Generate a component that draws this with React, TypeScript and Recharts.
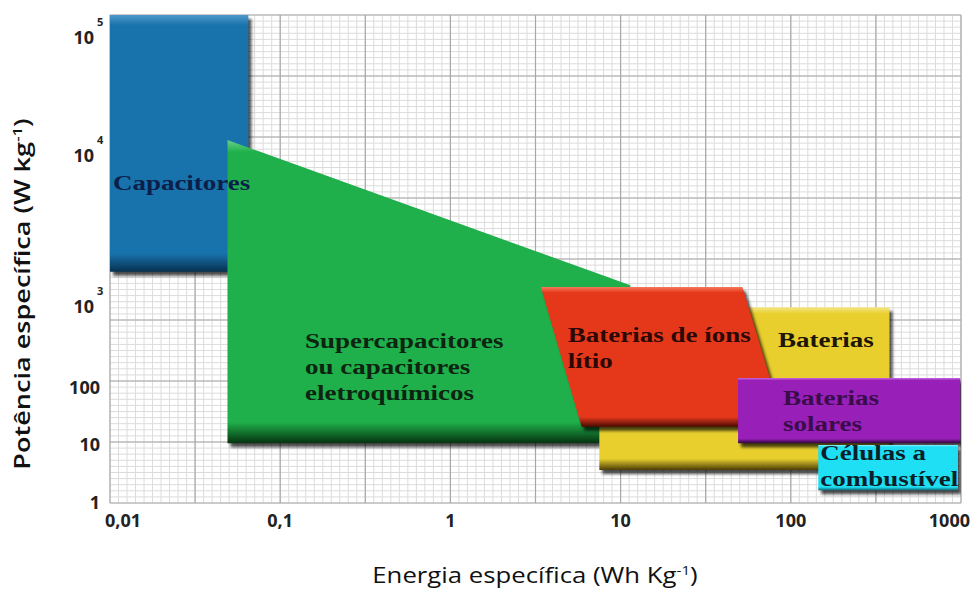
import React from "react";
import { Area, CartesianGrid, ComposedChart, ReferenceDot, XAxis, YAxis } from "recharts";

// energia específica (Wh/kg), eixo log
const X_TICKS = [0.01, 0.1, 1, 10, 100, 1000];
const X_TICK_LABELS = ["0,01", "0,1", "1", "10", "100", "1000"];

// o eixo de potência da figura não é regular: posições lidas numa grade de 0 a 8
const Y_TICKS = [0, 0.95, 1.89, 3.21, 5.69, 7.62];
const Y_TICK_BASE = ["1", "10", "100", "10", "10", "10"];
const Y_TICK_EXP = ["", "", "", "3", "4", "5"];

// regiões: x em Wh/kg, r = [base, topo] na grade do eixo y
const CAPACITORES = [
  { x: 0.01, r: [3.79, 8] },
  { x: 0.065, r: [3.79, 8] },
];
const SUPERCAPACITORES = [
  { x: 0.049, r: [0.98, 5.95] },
  { x: 11.4, r: [0.98, 3.57] },
];
const BATERIAS = [
  { x: 7.5, r: [0.54, 3.21] },
  { x: 380, r: [0.54, 3.21] },
];
const LITIO = [
  { x: 3.4, r: [3.54, 3.54] },
  { x: 5.9, r: [1.25, 3.54] },
  { x: 52, r: [1.25, 3.54] },
  { x: 92, r: [1.25, 1.25] },
];
const SOLARES = [
  { x: 49, r: [0.98, 2.05] },
  { x: 990, r: [0.98, 2.05] },
];
const CELULAS = [
  { x: 145, r: [0.21, 0.95] },
  { x: 960, r: [0.21, 0.95] },
];

const NOTES = [
  { x: 0.0104, y: 5.13, lines: ["Capacitores"], color: "#0b1f4a" },
  { x: 0.14, y: 2.54, lines: ["Supercapacitores", "ou capacitores", "eletroquímicos"], color: "#0c2410" },
  { x: 4.9, y: 2.64, lines: ["Baterias de íons", "lítio"], color: "#2b0804" },
  { x: 84, y: 2.56, lines: ["Baterias"], color: "#1c1604" },
  { x: 90, y: 1.61, lines: ["Baterias", "solares"], color: "#3a0d4a" },
  { x: 149, y: 0.7, lines: ["Células a", "combustível"], color: "#0a1f2a" },
];

const SHAPES = [
  { id: "cap", data: CAPACITORES, top: "#4d9acb", base: "#1872ab", dark: "#06304f" },
  { id: "sup", data: SUPERCAPACITORES, top: "#6ad08a", base: "#1fb04b", dark: "#06320f" },
  { id: "bat", data: BATERIAS, top: "#f5e788", base: "#e8cf2e", dark: "#4a3c05" },
  { id: "lit", data: LITIO, top: "#f57a5a", base: "#e5381b", dark: "#4a0a02" },
  { id: "sol", data: SOLARES, top: "#c86ae0", base: "#981fb8", dark: "#2c0637" },
  { id: "cel", data: CELULAS, top: "#8ff2fb", base: "#1fdff5", dark: "#0b6b78" },
];

// linhas do papel milimetrado
const MINOR_X = Array.from({ length: 101 }, (_, i) => Math.pow(10, -2 + i * 0.05));
const MAJOR_X = Array.from({ length: 11 }, (_, i) => Math.pow(10, -2 + i * 0.5));
const MINOR_Y = Array.from({ length: 81 }, (_, i) => i * 0.1);
const MAJOR_Y = Array.from({ length: 9 }, (_, i) => i);

const SANS = "'Open Sans', 'Noto Sans', sans-serif";
const SERIF = "'Liberation Serif', 'DejaVu Serif', serif";

function XTick(props: any) {
  const { x, y, payload, index } = props;
  const last = index === X_TICKS.length - 1;
  return (
    <text
      x={index === 0 ? x + 13 : last ? x + 9 : x}
      y={y + 14}
      textAnchor={last ? "end" : "middle"}
      fontFamily={SANS}
      fontWeight={700}
      fontSize={18}
      fill="#222"
    >
      {X_TICK_LABELS[index] ?? payload.value}
    </text>
  );
}

function YTick(props: any) {
  const { x, y, index } = props;
  const exp = Y_TICK_EXP[index];
  return (
    <g>
      <text x={exp ? x - 6 : x} y={y + 6} textAnchor="end" fontFamily={SANS} fontWeight={700} fontSize={18} fill="#222">
        {Y_TICK_BASE[index]}
      </text>
      {exp && (
        <text x={x - 3} y={y - 12} fontFamily={SANS} fontWeight={700} fontSize={11} fill="#222">
          {exp}
        </text>
      )}
    </g>
  );
}

function Note({ cx, cy, lines, color }: any) {
  return (
    <g transform={`translate(${cx},${cy}) scale(1.35,1)`}>
      <text fontFamily={SERIF} fontWeight={700} fontSize={20} fill={color}>
        {lines.map((l: string, i: number) => (
          <tspan key={i} x={0} y={i * 26}>
            {l}
          </tspan>
        ))}
      </text>
    </g>
  );
}

export default function App() {
  return (
    <div style={{ position: "fixed", left: 0, top: 0, width: 971, height: 592, background: "#fff" }}>
      <style>{`.shape .recharts-area-area{filter:drop-shadow(3px 4px 1.5px rgba(0,0,0,0.7));}`}</style>
      <ComposedChart width={971} height={592} margin={{ top: 15, right: 10, bottom: 49, left: 30 }}>
        <defs>
          {SHAPES.map((s) => (
            <linearGradient key={s.id} id={`g-${s.id}`} x1="0" y1="0" x2="0" y2="1">
              <stop offset="0" stopColor={s.top} />
              <stop offset="0.04" stopColor={s.base} />
              <stop offset="0.93" stopColor={s.base} />
              <stop offset="1" stopColor={s.dark} />
            </linearGradient>
          ))}
        </defs>
        <CartesianGrid verticalValues={MINOR_X} horizontalValues={MINOR_Y} stroke="#dcdcdc" strokeWidth={1} />
        <CartesianGrid verticalValues={MAJOR_X} horizontalValues={MAJOR_Y} stroke="#a8a8a8" strokeWidth={1.2} />
        <XAxis
          type="number"
          dataKey="x"
          scale="log"
          domain={[0.01, 1000]}
          ticks={X_TICKS}
          interval={0}
          tick={<XTick />}
          tickSize={0}
          tickMargin={10}
          axisLine={false}
          height={40}
          allowDataOverflow
        />
        <YAxis
          type="number"
          domain={[0, 8]}
          ticks={Y_TICKS}
          interval={0}
          tick={<YTick />}
          tickSize={0}
          tickMargin={10}
          axisLine={false}
          width={80}
          allowDataOverflow
        />
        {SHAPES.map((s) => (
          <Area
            key={s.id}
            className="shape"
            data={s.data}
            dataKey="r"
            type="linear"
            stroke="none"
            fill={`url(#g-${s.id})`}
            fillOpacity={1}
            dot={false}
            activeDot={false}
            isAnimationActive={false}
          />
        ))}
        {NOTES.map((n, i) => (
          <ReferenceDot
            key={i}
            x={n.x}
            y={n.y}
            r={0}
            shape={(p: any) => <Note cx={p.cx} cy={p.cy} lines={n.lines} color={n.color} />}
          />
        ))}
      </ComposedChart>
      <svg width={971} height={592} style={{ position: "absolute", left: 0, top: 0, pointerEvents: "none" }}>
        <g transform="translate(30,294) rotate(-90) scale(1.29,1)">
          <text textAnchor="middle" fontFamily={SANS} fontWeight={600} fontSize={21} fill="#111">
            Potência específica (W kg
            <tspan fontSize={13} dy={-8}>-1</tspan>
            <tspan dy={8}>)</tspan>
          </text>
        </g>
        <g transform="translate(535,583) scale(1.17,1)">
          <text textAnchor="middle" fontFamily={SANS} fontWeight={400} fontSize={22} fill="#111">
            Energia específica (Wh Kg
            <tspan fontSize={13} dy={-8}>-1</tspan>
            <tspan dy={8}>)</tspan>
          </text>
        </g>
      </svg>
    </div>
  );
}
